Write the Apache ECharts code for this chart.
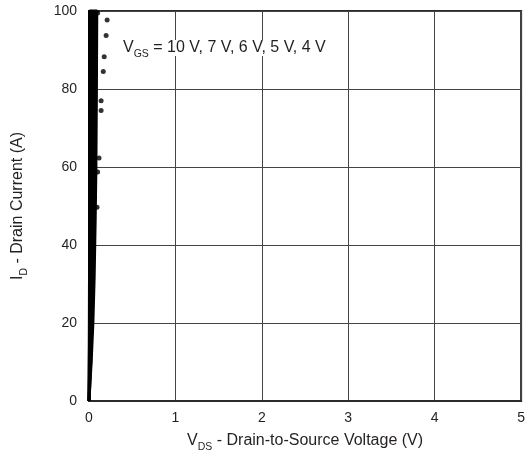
<!DOCTYPE html>
<html><head><meta charset="utf-8">
<script src="https://cdn.jsdelivr.net/npm/echarts@6/dist/echarts.min.js"></script>
<style>html,body{margin:0;padding:0;background:#fff}#c{width:528px;height:462px}</style>
</head><body><div id="c"></div>
<script>
// VDS (V), ID (A) for each gate voltage
const vgsNames = ['10 V', '7 V', '6 V', '5 V', '4 V'];
const curve10V = [[0,0],[0.004,20],[0.008,50],[0.012,75],[0.016,100]];
const curve7V  = [[0,0],[0.008,20],[0.016,45],[0.026,75],[0.035,100]];
const curve6V  = [[0,0],[0.014,15],[0.028,35],[0.042,60],[0.055,100]];
const curve5V  = [[0,0],[0.02,10],[0.035,20],[0.05,35],[0.06,50],[0.068,70],[0.075,100]];
const curve4V  = [[0,0],[0.025,10],[0.045,20],[0.06,32],[0.072,47],[0.08,60],[0.086,80],[0.09,100]];
const outlierDots = [[0.21,97.7],[0.198,93.7],[0.176,88.3],[0.165,84.5],[0.14,77],[0.14,74.5],[0.116,62.3],[0.1,58.7],[0.093,49.7],[0.02,99.8],[0.05,99.8],[0.08,99.8],[0.1,99.5]];
const xTicks = [0,1,2,3,4,5];
const yTicks = [0,20,40,60,80,100];

const curves = [curve10V, curve7V, curve6V, curve5V, curve4V];
const chart = echarts.init(document.getElementById('c'));
const txt = '#231f20';
const F = 'Liberation Sans';
const series = curves.map((d, i) => ({
  name: vgsNames[i], type: 'line', data: d, showSymbol: false,
  lineStyle: {color: '#000', width: 3}, silent: true, clip: true
}));
series.push({type: 'scatter', data: outlierDots, symbolSize: 5, itemStyle: {color: '#000'}, silent: true, clip: false});
const sub = {fontSize: 10.5, verticalAlign: 'bottom', padding: [0,0,-4,0], color: txt, fontFamily: F};

chart.setOption({
  animation: false,
  grid: {left: 89, right: 4, top: 11, bottom: 61, show: true, borderColor: '#2b2b2b', borderWidth: 2, backgroundColor: 'transparent'},
  xAxis: {
    type: 'value', min: xTicks[0], max: xTicks[xTicks.length-1], interval: 1,
    axisLine: {show: true, lineStyle: {color: '#2b2b2b', width: 2}},
    axisTick: {show: false},
    splitLine: {show: true, lineStyle: {color: '#444', width: 1}},
    axisLabel: {color: txt, fontSize: 14, fontFamily: F, margin: 10},
    name: 'V{s|DS} - Drain-to-Source Voltage (V)', nameLocation: 'middle', nameGap: 32,
    nameTextStyle: {color: txt, fontSize: 16, fontFamily: F, rich: {s: sub}}
  },
  yAxis: {
    type: 'value', min: yTicks[0], max: yTicks[yTicks.length-1], interval: 20,
    axisLine: {show: true, lineStyle: {color: '#000', width: 2}},
    axisTick: {show: false},
    splitLine: {show: true, lineStyle: {color: '#444', width: 1}},
    axisLabel: {color: txt, fontSize: 14, fontFamily: F, margin: 12},
    name: 'I{s|D} - Drain Current (A)', nameLocation: 'middle', nameGap: 63, nameRotate: 90,
    nameTextStyle: {color: txt, fontSize: 16, fontFamily: F, rich: {s: sub}}
  },
  graphic: [{
    type: 'text', left: 123, top: 40, z: 100,
    style: {
      text: 'V{s|GS} = ' + vgsNames.join(', '),
      fill: txt, fontSize: 16, fontFamily: F, backgroundColor: '#fff',
      rich: {s: {fontSize: 10.5, verticalAlign: 'bottom', padding: [0,0,-4,0], fill: txt, fontFamily: F}}
    }
  }],
  series
});
</script></body></html>
